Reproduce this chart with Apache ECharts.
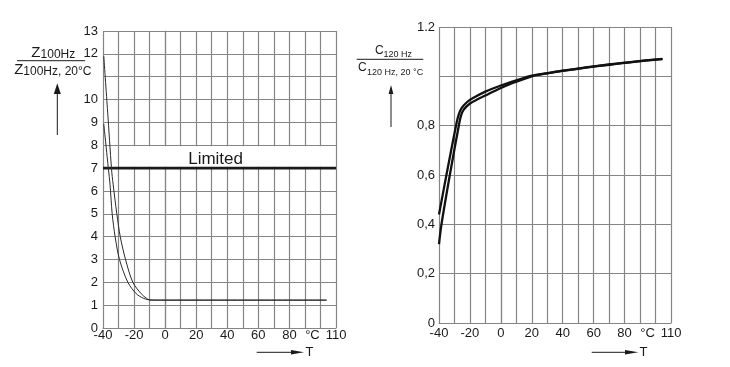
<!DOCTYPE html>
<html>
<head>
<meta charset="utf-8">
<script src="https://cdn.jsdelivr.net/npm/echarts@6/dist/echarts.min.js"></script>
<style>
html,body{margin:0;padding:0;background:#fff;}
#c{width:730px;height:367px;}
</style>
</head>
<body>
<div id="c"></div>
<script>
// ---- Left chart: impedance ratio Z/Z20 vs temperature ----
const zTempA = [-39.5, -37, -34.5, -33.5, -31.1, -28.9, -25.5, -20.8, -15.4, -12, -10, 0, 104];
const zValA  = [11.9, 9.45, 6.95, 6.3, 5, 4, 3, 2, 1.5, 1.3, 1.23, 1.22, 1.22];
const zTempB = [-39.5, -36.5, -35.5, -34.1, -32.2, -29.4, -24, -18.6, -14, -11, -9, 0, 104];
const zValB  = [8.93, 6.95, 6.3, 5, 4, 3, 2, 1.5, 1.3, 1.24, 1.22, 1.22, 1.22];
const limitTemp = [-40, 110];
const limitVal  = [7, 7];
const limitLabel = 'Limited';

// ---- Right chart: capacitance ratio C/C20 vs temperature ----
const cTempA = [-40, -35.2, -29, -27.5, -25.5, -22, -18, -10, 0, 10, 20, 30, 40, 55, 70, 85, 104.5];
const cValA  = [0.44, 0.6, 0.8, 0.84, 0.87, 0.895, 0.912, 0.938, 0.963, 0.984, 1.003, 1.013, 1.023, 1.036, 1.048, 1.059, 1.071];
const cTempB = [-40, -38.4, -33, -27.2, -25.8, -24, -20, -15, -10, 0, 10, 20, 30, 40, 55, 70, 85, 104.5];
const cValB  = [0.32, 0.4, 0.6, 0.8, 0.84, 0.865, 0.89, 0.907, 0.922, 0.953, 0.978, 1.0, 1.012, 1.022, 1.035, 1.047, 1.058, 1.07];

// tick labels
const xTickLabels = {'-40':'-40','-20':'-20','0':'0','20':'20','40':'40','60':'60','80':'80','100':'{c|°C}','110':'110'};
const leftYHidden = [11];
const rightYLabels = {'0':'0','0.2':'0,2','0.4':'0,4','0.6':'0,6','0.8':'0,8','1':'','1.2':'1.2'};

const FONT = "'Liberation Sans', Arial, sans-serif";
const GRID_COLOR = '#858585';
const TXT = '#1a1a1a';

function zip(a, b) { return a.map((v, i) => [v, b[i]]); }

function xAxis(gridIndex, margin) {
  return {
    gridIndex, type: 'value', min: -40, max: 110, interval: 10,
    axisLine: { show: true, lineStyle: { color: GRID_COLOR, width: 1.2 } },
    axisTick: { show: false },
    splitLine: { show: true, lineStyle: { color: GRID_COLOR, width: 1.2 } },
    axisLabel: {
      margin, fontFamily: FONT, fontSize: 13, color: TXT,
      formatter: v => { const k = String(Math.round(v)); return xTickLabels[k] !== undefined ? xTickLabels[k] : ''; },
      rich: { c: { fontFamily: FONT, fontSize: 13, color: TXT, padding: [0, 16, 0, 0] } }
    }
  };
}

const option = {
  animation: false,
  backgroundColor: '#fff',
  grid: [
    { left: 103, top: 31, width: 233, height: 297 },
    { left: 439, top: 27, width: 232, height: 296 }
  ],
  xAxis: [xAxis(0, 1), xAxis(1, 4)],
  yAxis: [
    {
      gridIndex: 0, type: 'value', min: 0, max: 13, interval: 1,
      axisLine: { show: true, lineStyle: { color: GRID_COLOR, width: 1.2 } },
      axisTick: { show: false },
      splitLine: { show: true, lineStyle: { color: GRID_COLOR, width: 1.2 } },
      axisLabel: {
        margin: 5, fontFamily: FONT, fontSize: 13, color: TXT, padding: [0, 0, 6, 0],
        formatter: v => leftYHidden.indexOf(Math.round(v)) >= 0 ? '' : String(Math.round(v))
      }
    },
    {
      gridIndex: 1, type: 'value', min: 0, max: 1.2, interval: 0.2,
      axisLine: { show: true, lineStyle: { color: GRID_COLOR, width: 1.2 } },
      axisTick: { show: false },
      splitLine: { show: true, lineStyle: { color: GRID_COLOR, width: 1.2 } },
      axisLabel: {
        margin: 4, fontFamily: FONT, fontSize: 13, color: TXT,
        formatter: v => { const k = String(Math.round(v * 10) / 10); return rightYLabels[k] !== undefined ? rightYLabels[k] : ''; }
      }
    }
  ],
  series: [
    {
      type: 'line', xAxisIndex: 0, yAxisIndex: 0, data: zip(limitTemp, limitVal),
      symbol: 'none', lineStyle: { color: '#1a1a1a', width: 2.6 }, z: 4,
      markArea: {
        silent: true,
        itemStyle: { color: '#ffffff' },
        label: { show: true, position: 'inside', formatter: limitLabel, fontFamily: FONT, fontSize: 17, color: TXT, offset: [-12, 3] },
        data: [[{ xAxis: -29, yAxis: 7.06 }, { xAxis: 109.4, yAxis: 7.95 }]]
      }
    },
    {
      type: 'line', xAxisIndex: 0, yAxisIndex: 0, data: zip(zTempA, zValA),
      symbol: 'none', smooth: 0.3, lineStyle: { color: '#2a2a2a', width: 1 }, z: 5
    },
    {
      type: 'line', xAxisIndex: 0, yAxisIndex: 0, data: zip(zTempB, zValB),
      symbol: 'none', smooth: 0.3, lineStyle: { color: '#2a2a2a', width: 1 }, z: 5
    },
    {
      type: 'line', xAxisIndex: 1, yAxisIndex: 1, data: zip(cTempA, cValA),
      symbol: 'none', smooth: 0.3, lineStyle: { color: '#111', width: 2.3 }, z: 5
    },
    {
      type: 'line', xAxisIndex: 1, yAxisIndex: 1, data: zip(cTempB, cValB),
      symbol: 'none', smooth: 0.3, lineStyle: { color: '#111', width: 2.3 }, z: 5
    }
  ],
  graphic: [
    // left title fraction
    { type: 'text', style: { x: 53.3, y: 53, text: '{z|Z}{s|100Hz}', align: 'center', verticalAlign: 'middle', fill: TXT,
      rich: { z: { fontFamily: FONT, fontSize: 15, fill: TXT, verticalAlign: 'bottom' }, s: { fontFamily: FONT, fontSize: 12, fill: TXT, verticalAlign: 'bottom' } } } },
    { type: 'line', shape: { x1: 17, y1: 60.7, x2: 85, y2: 60.7 }, style: { stroke: TXT, lineWidth: 1 } },
    { type: 'text', style: { x: 52.8, y: 70, text: '{z|Z}{s|100Hz, 20°C}', align: 'center', verticalAlign: 'middle', fill: TXT,
      rich: { z: { fontFamily: FONT, fontSize: 15, fill: TXT, verticalAlign: 'bottom' }, s: { fontFamily: FONT, fontSize: 12, fill: TXT, verticalAlign: 'bottom' } } } },
    { type: 'line', shape: { x1: 57.3, y1: 93, x2: 57.3, y2: 135 }, style: { stroke: TXT, lineWidth: 1 } },
    { type: 'polygon', shape: { points: [[57.3, 83.3], [53.8, 94], [60.8, 94]] }, style: { fill: TXT } },
    // right title fraction
    { type: 'text', style: { x: 375, y: 50.2, text: 'C', align: 'left', verticalAlign: 'middle', font: '12px ' + FONT, fill: TXT } },
    { type: 'text', style: { x: 383.5, y: 54.2, text: '120 Hz', align: 'left', verticalAlign: 'middle', font: '9px ' + FONT, fill: TXT } },
    { type: 'line', shape: { x1: 356.7, y1: 59.3, x2: 423.3, y2: 59.3 }, style: { stroke: TXT, lineWidth: 1 } },
    { type: 'text', style: { x: 358, y: 67.8, text: 'C', align: 'left', verticalAlign: 'middle', font: '12px ' + FONT, fill: TXT } },
    { type: 'text', style: { x: 367, y: 72.5, text: '120 Hz, 20 °C', align: 'left', verticalAlign: 'middle', font: '9px ' + FONT, fill: TXT } },
    { type: 'line', shape: { x1: 391, y1: 93, x2: 391, y2: 127 }, style: { stroke: TXT, lineWidth: 1 } },
    { type: 'polygon', shape: { points: [[391, 85], [388.6, 94], [393.4, 94]] }, style: { fill: TXT } },
    // bottom T arrows
    { type: 'line', shape: { x1: 256.7, y1: 352.3, x2: 292, y2: 352.3 }, style: { stroke: TXT, lineWidth: 1 } },
    { type: 'polygon', shape: { points: [[291, 350], [304, 352.3], [291, 354.6]] }, style: { fill: TXT } },
    { type: 'text', style: { x: 305.5, y: 352.8, text: 'T', align: 'left', verticalAlign: 'middle', font: '13px ' + FONT, fill: TXT } },
    { type: 'line', shape: { x1: 591.7, y1: 352.3, x2: 627, y2: 352.3 }, style: { stroke: TXT, lineWidth: 1 } },
    { type: 'polygon', shape: { points: [[625, 350], [638.3, 352.3], [625, 354.6]] }, style: { fill: TXT } },
    { type: 'text', style: { x: 639.5, y: 352.8, text: 'T', align: 'left', verticalAlign: 'middle', font: '13px ' + FONT, fill: TXT } }
  ]
};

const chart = echarts.init(document.getElementById('c'), null, { renderer: 'canvas' });
chart.setOption(option);
</script>
</body>
</html>
